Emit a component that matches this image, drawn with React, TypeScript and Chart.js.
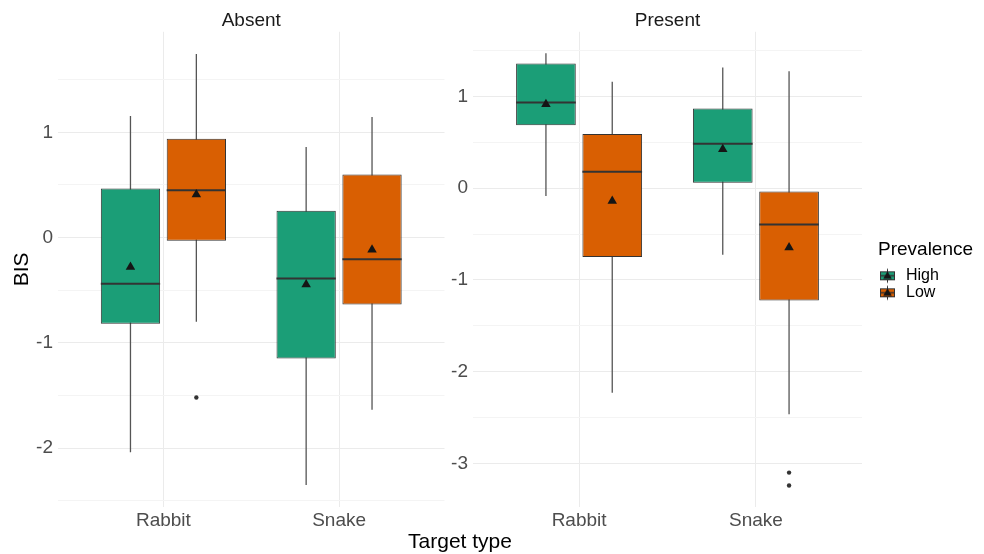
import React, { useEffect, useRef } from 'react';
import { Chart, registerables } from 'chart.js';

Chart.register(...registerables);

const FONT = "'Liberation Sans', Arial, Helvetica, sans-serif";

// ---------- data ----------
const categories = ['Rabbit', 'Snake'];
const prevalence = ['High', 'Low'];
const facetTitles = ['Absent', 'Present'];

// Absent – High
const absentHighLower = [-2.04, -2.35];
const absentHighQ1 = [-0.82, -1.15];
const absentHighMedian = [-0.44, -0.39];
const absentHighQ3 = [0.465, 0.255];
const absentHighUpper = [1.155, 0.86];
const absentHighMean = [-0.28, -0.445];
const absentHighOutliers: number[][] = [[], []];

// Absent – Low
const absentLowLower = [-0.8, -1.635];
const absentLowQ1 = [-0.03, -0.635];
const absentLowMedian = [0.45, -0.205];
const absentLowQ3 = [0.94, 0.6];
const absentLowUpper = [1.745, 1.145];
const absentLowMean = [0.41, -0.115];
const absentLowOutliers: number[][] = [[-1.52], []];

// Present – High
const presentHighLower = [-0.085, -0.725];
const presentHighQ1 = [0.685, 0.06];
const presentHighMedian = [0.935, 0.485];
const presentHighQ3 = [1.36, 0.87];
const presentHighUpper = [1.47, 1.315];
const presentHighMean = [0.915, 0.425];
const presentHighOutliers: number[][] = [[], []];

// Present – Low
const presentLowLower = [-2.23, -2.465];
const presentLowQ1 = [-0.75, -1.225];
const presentLowMedian = [0.18, -0.395];
const presentLowQ3 = [0.59, -0.035];
const presentLowUpper = [1.16, 1.275];
const presentLowMean = [-0.14, -0.645];
const presentLowOutliers: number[][] = [[], [-3.1, -3.24]];

// axis limits and grid values
const absentYLimits = [-2.56, 1.955];
const presentYLimits = [-3.475, 1.705];
const absentGridValues = [-2.5, -2, -1.5, -1, -0.5, 0, 0.5, 1, 1.5];
const presentGridValues = [-3, -2.5, -2, -1.5, -1, -0.5, 0, 0.5, 1, 1.5];
const xLimits = [0.4, 2.6];

// ---------- styles ----------
const HIGH_COLOR = '#1B9E77';
const LOW_COLOR = '#D95F02';
const EDGE = '#333333';
const WHISKER = '#555555';
const MEAN_COLOR = '#151515';
const DODGE = 0.1875;
const BOX_WIDTH = 0.3375;
const LEGEND_MIN_WIDTH = 106;

type Group = {
  lower: number[];
  q1: number[];
  median: number[];
  q3: number[];
  upper: number[];
  mean: number[];
  outliers: number[][];
};

const absentHigh: Group = { lower: absentHighLower, q1: absentHighQ1, median: absentHighMedian, q3: absentHighQ3, upper: absentHighUpper, mean: absentHighMean, outliers: absentHighOutliers };
const absentLow: Group = { lower: absentLowLower, q1: absentLowQ1, median: absentLowMedian, q3: absentLowQ3, upper: absentLowUpper, mean: absentLowMean, outliers: absentLowOutliers };
const presentHigh: Group = { lower: presentHighLower, q1: presentHighQ1, median: presentHighMedian, q3: presentHighQ3, upper: presentHighUpper, mean: presentHighMean, outliers: presentHighOutliers };
const presentLow: Group = { lower: presentLowLower, q1: presentLowQ1, median: presentLowMedian, q3: presentLowQ3, upper: presentLowUpper, mean: presentLowMean, outliers: presentLowOutliers };

function groupDatasets(g: Group, color: string, offset: number, name: string) {
  const xs = categories.map((_, i) => i + 1 + offset);
  const halfBoxPx = (ctx: any) => {
    const s = ctx.chart.scales.x;
    return Math.abs(s.getPixelForValue(BOX_WIDTH) - s.getPixelForValue(0)) / 2;
  };
  return [
    {
      type: 'bar',
      label: name + ' whisker',
      data: xs.map((x, i) => ({ x, y: [g.lower[i], g.upper[i]] })),
      backgroundColor: WHISKER,
      borderWidth: 0,
      grouped: false,
      maxBarThickness: 1.3,
      yAxisID: 'y',
      order: 5,
    },
    {
      type: 'bar',
      label: name,
      data: xs.map((x, i) => ({ x, y: [g.q1[i], g.q3[i]] })),
      backgroundColor: color,
      borderColor: EDGE,
      borderWidth: 1,
      borderSkipped: false,
      grouped: false,
      barPercentage: 0.9,
      categoryPercentage: 1,
      yAxisID: 'y',
      order: 4,
    },
    {
      type: 'scatter',
      label: name + ' median',
      data: xs.map((x, i) => ({ x, y: g.median[i] })),
      pointStyle: 'line',
      pointRadius: halfBoxPx,
      pointBorderColor: EDGE,
      pointBorderWidth: 2,
      yAxisID: 'y',
      order: 3,
    },
    {
      type: 'scatter',
      label: name + ' mean',
      data: xs.map((x, i) => ({ x, y: g.mean[i] })),
      pointStyle: 'triangle',
      pointRadius: 5.5,
      pointBackgroundColor: MEAN_COLOR,
      pointBorderWidth: 0,
      yAxisID: 'y',
      order: 2,
    },
    {
      type: 'scatter',
      label: name + ' outliers',
      data: xs.flatMap((x, i) => g.outliers[i].map((y) => ({ x, y }))),
      pointStyle: 'circle',
      pointRadius: 2.2,
      pointBackgroundColor: EDGE,
      pointBorderWidth: 0,
      yAxisID: 'y',
      order: 1,
    },
  ];
}

function makeKey(color: string) {
  const c = document.createElement('canvas');
  c.width = 19;
  c.height = 17;
  const g = c.getContext('2d')!;
  g.strokeStyle = EDGE;
  g.lineWidth = 1;
  g.beginPath();
  g.moveTo(8.5, 1.5);
  g.lineTo(8.5, 15.5);
  g.stroke();
  g.fillStyle = color;
  g.fillRect(1.5, 4.5, 14, 8);
  g.strokeRect(1.5, 4.5, 14, 8);
  g.lineWidth = 1.5;
  g.beginPath();
  g.moveTo(1.5, 8.5);
  g.lineTo(15.5, 8.5);
  g.stroke();
  g.fillStyle = MEAN_COLOR;
  g.beginPath();
  g.moveTo(8.5, 4);
  g.lineTo(12.8, 11.5);
  g.lineTo(4.2, 11.5);
  g.closePath();
  g.fill();
  return c;
}

// widens the legend box so its title is not clipped
const legendWidthPlugin = {
  id: 'legendWidth',
  beforeUpdate(chart: any) {
    const lg = chart.legend;
    if (lg && !lg.__widened) {
      const fit = lg.fit.bind(lg);
      lg.fit = () => {
        fit();
        lg.width = Math.max(lg.width, LEGEND_MIN_WIDTH);
      };
      lg.__widened = true;
    }
  },
};

function buildConfig(
  facet: number,
  high: Group,
  low: Group,
  yLimits: number[],
  gridValues: number[],
  keys: HTMLCanvasElement[] | null
): any {
  const isLeft = facet === 0;
  return {
    type: 'bar',
    data: {
      datasets: [
        ...groupDatasets(high, HIGH_COLOR, -DODGE, prevalence[0]),
        ...groupDatasets(low, LOW_COLOR, DODGE, prevalence[1]),
      ],
    },
    plugins: isLeft ? [] : [legendWidthPlugin],
    options: {
      responsive: false,
      animation: false,
      devicePixelRatio: 1,
      events: [],
      layout: { padding: { left: 0, top: 0, bottom: 0, right: isLeft ? 4 : 0 } },
      plugins: {
        tooltip: { enabled: false },
        title: {
          display: true,
          text: facetTitles[facet],
          fullSize: false,
          color: '#1A1A1A',
          font: { family: FONT, size: 19, weight: 'normal' },
          padding: { top: 9, bottom: 0 },
        },
        legend: isLeft
          ? { display: false }
          : {
              display: true,
              position: 'right',
              fullSize: false,
              align: 'center',
              title: {
                display: true,
                text: 'Prevalence',
                position: 'start',
                color: '#000000',
                font: { family: FONT, size: 19 },
                padding: { top: 3, bottom: 4 },
              },
              labels: {
                usePointStyle: true,
                pointStyleWidth: 19,
                boxHeight: 16,
                padding: 1,
                color: '#000000',
                font: { family: FONT, size: 16 },
                generateLabels: () =>
                  prevalence.map((p, i) => ({
                    text: p,
                    pointStyle: keys ? keys[i] : 'rect',
                    fillStyle: i === 0 ? HIGH_COLOR : LOW_COLOR,
                    strokeStyle: EDGE,
                    lineWidth: 0,
                    hidden: false,
                    fontColor: '#000000',
                  })),
              },
            },
      },
      scales: {
        x: {
          type: 'linear',
          min: xLimits[0],
          max: xLimits[1],
          offset: false,
          afterBuildTicks: (s: any) => {
            s.ticks = categories.map((_, i) => ({ value: i + 1 }));
          },
          afterFit: (s: any) => {
            s.height = 47;
          },
          ticks: {
            autoSkip: false,
            maxRotation: 0,
            padding: 2,
            color: '#4D4D4D',
            font: { family: FONT, size: 19 },
            callback: (v: number) => categories[Math.round(v) - 1] ?? '',
          },
          grid: { offset: false, color: '#EBEBEB', lineWidth: 1, drawTicks: false },
          border: { display: false },
        },
        y: {
          type: 'linear',
          position: 'left',
          min: yLimits[0],
          max: yLimits[1],
          afterBuildTicks: (s: any) => {
            s.ticks = gridValues.map((v) => ({ value: v }));
          },
          afterFit: (s: any) => {
            s.width = isLeft ? 58 : 27;
          },
          ticks: {
            autoSkip: false,
            padding: 5,
            color: '#4D4D4D',
            font: { family: FONT, size: 19 },
            callback: (v: number) => (Number.isInteger(v) ? String(v) : ''),
          },
          grid: {
            color: (ctx: any) => (Number.isInteger(ctx.tick?.value) ? '#EBEBEB' : '#F4F4F4'),
            lineWidth: 1,
            drawTicks: false,
          },
          border: { display: false },
          title: {
            display: isLeft,
            text: 'BIS',
            color: '#000000',
            font: { family: FONT, size: 21 },
            padding: { top: 10, bottom: 0 },
          },
        },
        ...(isLeft
          ? {}
          : {
              gap: {
                type: 'linear',
                axis: 'y',
                position: 'right',
                display: true,
                grid: { display: false },
                border: { display: false },
                ticks: { display: false },
                afterFit: (s: any) => {
                  s.width = 16;
                },
              },
            }),
      },
    },
  };
}

export default function App() {
  const leftRef = useRef<HTMLCanvasElement>(null);
  const rightRef = useRef<HTMLCanvasElement>(null);

  useEffect(() => {
    Chart.defaults.font.family = FONT;
    const keys = [makeKey(HIGH_COLOR), makeKey(LOW_COLOR)];
    const left = new Chart(
      leftRef.current as HTMLCanvasElement,
      buildConfig(0, absentHigh, absentLow, absentYLimits, absentGridValues, null)
    );
    const right = new Chart(
      rightRef.current as HTMLCanvasElement,
      buildConfig(1, presentHigh, presentLow, presentYLimits, presentGridValues, keys)
    );
    return () => {
      left.destroy();
      right.destroy();
    };
  }, []);

  return (
    <div
      style={{
        position: 'absolute',
        left: 0,
        top: 0,
        width: 984,
        height: 554,
        background: '#ffffff',
        overflow: 'hidden',
      }}
    >
      <canvas ref={leftRef} width={450} height={554} style={{ position: 'absolute', left: 0, top: 0 }} />
      <canvas ref={rightRef} width={538} height={554} style={{ position: 'absolute', left: 446, top: 0 }} />
      <div
        style={{
          position: 'absolute',
          left: 0,
          top: 530,
          width: 920,
          textAlign: 'center',
          fontFamily: FONT,
          fontSize: 21,
          lineHeight: '21px',
          color: '#000000',
        }}
      >
        Target type
      </div>
    </div>
  );
}
